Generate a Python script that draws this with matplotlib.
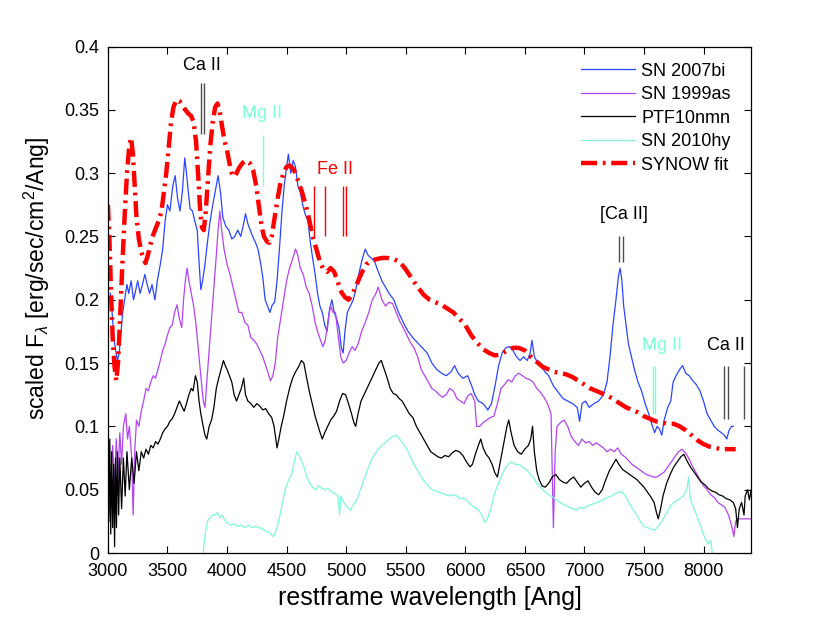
import numpy as np
import matplotlib
matplotlib.use("Agg")
import matplotlib.pyplot as plt

plt.rcParams['font.family'] = ['Liberation Sans', 'DejaVu Sans']
plt.rcParams['mathtext.fontset'] = 'custom'
plt.rcParams['mathtext.rm'] = 'Liberation Sans'
plt.rcParams['mathtext.it'] = 'Liberation Sans:italic'

# === spectra (wavelength [Ang], scaled flux) ===
sn2007bi = np.array([
    (3020, 0.205), (3035, 0.19), (3050, 0.17), (3065, 0.16), (3080, 0.152), (3095, 0.158),
    (3110, 0.175), (3125, 0.19), (3140, 0.2), (3160, 0.212), (3175, 0.205), (3195, 0.215),
    (3215, 0.2), (3230, 0.206), (3250, 0.215), (3270, 0.205), (3290, 0.212), (3310, 0.22),
    (3330, 0.212), (3350, 0.205), (3370, 0.212), (3395, 0.2), (3415, 0.215), (3440, 0.228),
    (3460, 0.24), (3480, 0.262), (3500, 0.275), (3520, 0.27), (3545, 0.29), (3565, 0.298),
    (3585, 0.28), (3605, 0.27), (3625, 0.285), (3645, 0.312), (3660, 0.3), (3675, 0.285),
    (3690, 0.272), (3710, 0.27), (3730, 0.262), (3750, 0.255), (3765, 0.23), (3780, 0.208),
    (3795, 0.215), (3815, 0.228), (3835, 0.245), (3855, 0.26), (3875, 0.272), (3900, 0.285),
    (3925, 0.298), (3945, 0.285), (3965, 0.265), (3990, 0.258), (4015, 0.255), (4040, 0.248),
    (4065, 0.25), (4090, 0.255), (4115, 0.25), (4135, 0.258), (4155, 0.268), (4175, 0.26),
    (4195, 0.255), (4215, 0.25), (4240, 0.245), (4260, 0.24), (4280, 0.23), (4300, 0.218),
    (4320, 0.2), (4340, 0.195), (4360, 0.19), (4380, 0.196), (4400, 0.198), (4420, 0.215),
    (4440, 0.24), (4460, 0.268), (4480, 0.29), (4500, 0.305), (4515, 0.315), (4535, 0.3),
    (4555, 0.31), (4575, 0.305), (4595, 0.29), (4615, 0.285), (4635, 0.275), (4655, 0.268),
    (4680, 0.262), (4700, 0.245), (4720, 0.232), (4740, 0.22), (4760, 0.205), (4780, 0.195),
    (4800, 0.19), (4820, 0.18), (4840, 0.175), (4860, 0.192), (4880, 0.2), (4900, 0.19),
    (4920, 0.185), (4940, 0.178), (4960, 0.162), (4975, 0.158), (4990, 0.175), (5010, 0.19),
    (5035, 0.195), (5060, 0.2), (5085, 0.21), (5110, 0.222), (5135, 0.232), (5160, 0.24),
    (5185, 0.235), (5210, 0.233), (5240, 0.23), (5270, 0.222), (5300, 0.215), (5330, 0.21),
    (5360, 0.205), (5400, 0.2), (5440, 0.19), (5480, 0.182), (5520, 0.175), (5560, 0.17),
    (5600, 0.166), (5640, 0.162), (5680, 0.158), (5720, 0.15), (5760, 0.145), (5800, 0.142),
    (5840, 0.14), (5880, 0.143), (5910, 0.148), (5940, 0.142), (5980, 0.138), (6020, 0.14),
    (6050, 0.133), (6080, 0.125), (6110, 0.12), (6150, 0.118), (6190, 0.113), (6220, 0.118),
    (6250, 0.132), (6280, 0.148), (6310, 0.158), (6340, 0.162), (6370, 0.163), (6400, 0.16),
    (6430, 0.155), (6460, 0.152), (6490, 0.155), (6520, 0.152), (6545, 0.158), (6560, 0.168),
    (6580, 0.155), (6610, 0.15), (6640, 0.147), (6670, 0.143), (6700, 0.14), (6740, 0.132),
    (6780, 0.127), (6820, 0.122), (6860, 0.12), (6900, 0.118), (6940, 0.115), (6960, 0.104),
    (6980, 0.118), (7010, 0.12), (7040, 0.115), (7080, 0.118), (7120, 0.12), (7160, 0.125),
    (7190, 0.135), (7215, 0.155), (7240, 0.18), (7265, 0.2), (7285, 0.218), (7300, 0.225),
    (7315, 0.215), (7330, 0.195), (7350, 0.18), (7370, 0.165), (7395, 0.155), (7420, 0.145),
    (7450, 0.135), (7480, 0.128), (7510, 0.118), (7540, 0.11), (7565, 0.102), (7590, 0.095),
    (7610, 0.1), (7630, 0.098), (7650, 0.093), (7670, 0.105), (7700, 0.115), (7725, 0.12),
    (7745, 0.135), (7770, 0.14), (7800, 0.145), (7825, 0.148), (7850, 0.142), (7880, 0.14),
    (7910, 0.136), (7940, 0.133), (7970, 0.128), (8000, 0.12), (8030, 0.11), (8060, 0.105),
    (8090, 0.1), (8120, 0.097), (8150, 0.095), (8175, 0.093), (8195, 0.09), (8215, 0.097),
    (8235, 0.1), (8250, 0.1)])

sn1999as = np.array([
    (3000, 0.08), (3008, 0.05), (3015, 0.025), (3025, 0.06), (3040, 0.085), (3055, 0.05),
    (3070, 0.09), (3085, 0.06), (3100, 0.095), (3115, 0.07), (3130, 0.1), (3150, 0.11),
    (3165, 0.09), (3180, 0.1), (3200, 0.075), (3212, 0.03), (3225, 0.08), (3240, 0.105),
    (3260, 0.1), (3280, 0.112), (3300, 0.12), (3320, 0.13), (3340, 0.128), (3360, 0.135),
    (3380, 0.14), (3400, 0.138), (3420, 0.145), (3440, 0.152), (3460, 0.16), (3480, 0.165),
    (3500, 0.172), (3520, 0.178), (3540, 0.18), (3560, 0.19), (3580, 0.196), (3600, 0.185),
    (3620, 0.178), (3635, 0.2), (3650, 0.215), (3665, 0.225), (3680, 0.215), (3700, 0.205),
    (3720, 0.195), (3740, 0.18), (3760, 0.16), (3780, 0.14), (3800, 0.12), (3815, 0.115),
    (3830, 0.135), (3850, 0.16), (3870, 0.185), (3890, 0.21), (3910, 0.235), (3925, 0.255),
    (3940, 0.27), (3955, 0.255), (3975, 0.24), (4000, 0.228), (4025, 0.22), (4050, 0.21),
    (4075, 0.2), (4100, 0.19), (4125, 0.19), (4150, 0.182), (4175, 0.18), (4200, 0.17),
    (4225, 0.168), (4250, 0.165), (4275, 0.16), (4300, 0.155), (4325, 0.148), (4345, 0.142),
    (4365, 0.136), (4385, 0.14), (4405, 0.15), (4425, 0.17), (4450, 0.185), (4475, 0.2),
    (4500, 0.215), (4525, 0.225), (4550, 0.232), (4575, 0.24), (4595, 0.235), (4615, 0.225),
    (4640, 0.22), (4665, 0.21), (4690, 0.205), (4715, 0.195), (4740, 0.182), (4760, 0.175),
    (4785, 0.168), (4805, 0.163), (4825, 0.168), (4850, 0.185), (4870, 0.195), (4890, 0.19),
    (4910, 0.19), (4935, 0.17), (4955, 0.155), (4975, 0.15), (5000, 0.152), (5025, 0.158),
    (5050, 0.163), (5075, 0.16), (5100, 0.165), (5130, 0.175), (5160, 0.182), (5190, 0.19),
    (5220, 0.2), (5250, 0.205), (5270, 0.21), (5300, 0.2), (5330, 0.195), (5360, 0.198),
    (5390, 0.197), (5420, 0.19), (5450, 0.183), (5480, 0.178), (5510, 0.172), (5540, 0.166),
    (5570, 0.162), (5600, 0.155), (5630, 0.145), (5660, 0.14), (5690, 0.135), (5720, 0.13),
    (5750, 0.128), (5780, 0.125), (5810, 0.123), (5840, 0.125), (5870, 0.13), (5900, 0.128),
    (5930, 0.122), (5960, 0.12), (5990, 0.118), (6020, 0.124), (6050, 0.126), (6080, 0.12),
    (6095, 0.1), (6120, 0.1), (6150, 0.103), (6180, 0.105), (6210, 0.107), (6240, 0.108),
    (6270, 0.118), (6300, 0.13), (6330, 0.133), (6360, 0.137), (6390, 0.135), (6420, 0.14),
    (6450, 0.142), (6480, 0.14), (6510, 0.138), (6540, 0.137), (6570, 0.135), (6600, 0.13),
    (6630, 0.127), (6660, 0.123), (6690, 0.118), (6720, 0.11), (6740, 0.02), (6755, 0.08),
    (6770, 0.1), (6800, 0.103), (6830, 0.105), (6860, 0.1), (6890, 0.092), (6920, 0.088),
    (6950, 0.085), (6980, 0.09), (7010, 0.087), (7040, 0.088), (7070, 0.085), (7100, 0.087),
    (7130, 0.085), (7160, 0.083), (7190, 0.08), (7220, 0.082), (7250, 0.08), (7280, 0.083),
    (7310, 0.078), (7340, 0.076), (7370, 0.073), (7400, 0.07), (7430, 0.068), (7460, 0.066),
    (7490, 0.064), (7520, 0.062), (7550, 0.061), (7580, 0.06), (7610, 0.06), (7640, 0.062),
    (7670, 0.064), (7700, 0.068), (7730, 0.072), (7760, 0.076), (7790, 0.08), (7820, 0.082),
    (7850, 0.079), (7880, 0.074), (7910, 0.068), (7940, 0.063), (7970, 0.058), (8000, 0.053),
    (8030, 0.05), (8060, 0.046), (8090, 0.044), (8120, 0.04), (8150, 0.038), (8180, 0.036),
    (8210, 0.03), (8240, 0.02), (8255, 0.013), (8270, 0.025), (8290, 0.027), (8400, 0.027)])

ptf10nmn = np.array([
    (3000, 0.1), (3008, 0.03), (3016, 0.09), (3024, 0.015), (3032, 0.08), (3040, 0.02),
    (3048, 0.07), (3056, 0.005), (3064, 0.075), (3072, 0.02), (3080, 0.08), (3090, 0.03),
    (3100, 0.075), (3115, 0.035), (3130, 0.075), (3145, 0.045), (3160, 0.08), (3180, 0.05),
    (3200, 0.075), (3220, 0.055), (3240, 0.08), (3260, 0.065), (3280, 0.08), (3300, 0.075),
    (3320, 0.082), (3340, 0.078), (3360, 0.085), (3380, 0.083), (3400, 0.088), (3420, 0.086),
    (3440, 0.09), (3460, 0.095), (3480, 0.098), (3500, 0.1), (3520, 0.104), (3540, 0.106),
    (3560, 0.11), (3580, 0.115), (3600, 0.12), (3620, 0.116), (3640, 0.112), (3660, 0.118),
    (3680, 0.125), (3700, 0.13), (3715, 0.128), (3735, 0.14), (3750, 0.135), (3765, 0.12),
    (3780, 0.11), (3800, 0.1), (3815, 0.093), (3830, 0.09), (3850, 0.1), (3870, 0.105),
    (3890, 0.115), (3910, 0.13), (3930, 0.138), (3950, 0.145), (3970, 0.152), (3985, 0.148),
    (4000, 0.145), (4020, 0.14), (4040, 0.135), (4060, 0.125), (4080, 0.12), (4100, 0.125),
    (4120, 0.13), (4140, 0.138), (4155, 0.125), (4175, 0.12), (4200, 0.118), (4225, 0.115),
    (4250, 0.118), (4275, 0.116), (4300, 0.113), (4325, 0.114), (4350, 0.11), (4375, 0.107),
    (4395, 0.1), (4410, 0.09), (4420, 0.083), (4435, 0.09), (4455, 0.1), (4475, 0.108),
    (4500, 0.12), (4525, 0.13), (4550, 0.138), (4575, 0.143), (4600, 0.147), (4625, 0.152),
    (4645, 0.15), (4665, 0.14), (4690, 0.128), (4715, 0.118), (4740, 0.108), (4765, 0.1),
    (4785, 0.094), (4800, 0.09), (4820, 0.095), (4845, 0.1), (4870, 0.105), (4895, 0.108),
    (4920, 0.112), (4945, 0.12), (4970, 0.126), (4995, 0.125), (5020, 0.118), (5045, 0.11),
    (5065, 0.103), (5080, 0.1), (5100, 0.11), (5125, 0.12), (5150, 0.125), (5175, 0.13),
    (5200, 0.135), (5225, 0.14), (5250, 0.145), (5275, 0.15), (5295, 0.152), (5320, 0.145),
    (5345, 0.138), (5370, 0.13), (5395, 0.126), (5420, 0.125), (5445, 0.122), (5470, 0.12),
    (5500, 0.115), (5530, 0.11), (5560, 0.107), (5590, 0.1), (5620, 0.095), (5650, 0.09),
    (5680, 0.085), (5710, 0.08), (5740, 0.078), (5770, 0.076), (5800, 0.075), (5830, 0.077),
    (5860, 0.076), (5890, 0.079), (5920, 0.081), (5950, 0.08), (5980, 0.077), (6010, 0.072),
    (6040, 0.068), (6060, 0.07), (6085, 0.078), (6110, 0.085), (6130, 0.09), (6150, 0.083),
    (6175, 0.078), (6200, 0.075), (6225, 0.07), (6250, 0.063), (6270, 0.06), (6290, 0.07),
    (6310, 0.08), (6330, 0.09), (6350, 0.1), (6365, 0.105), (6385, 0.095), (6410, 0.085),
    (6440, 0.08), (6470, 0.078), (6500, 0.082), (6530, 0.085), (6550, 0.09), (6565, 0.1),
    (6580, 0.08), (6600, 0.065), (6620, 0.058), (6645, 0.053), (6670, 0.052), (6700, 0.055),
    (6730, 0.06), (6760, 0.062), (6790, 0.058), (6820, 0.056), (6850, 0.055), (6880, 0.058),
    (6910, 0.06), (6940, 0.056), (6970, 0.052), (7000, 0.055), (7030, 0.057), (7060, 0.052),
    (7090, 0.048), (7120, 0.046), (7150, 0.05), (7180, 0.058), (7210, 0.065), (7240, 0.07),
    (7265, 0.074), (7290, 0.07), (7320, 0.066), (7350, 0.064), (7380, 0.062), (7410, 0.06),
    (7440, 0.058), (7470, 0.055), (7500, 0.052), (7530, 0.048), (7560, 0.044), (7585, 0.04),
    (7605, 0.032), (7620, 0.027), (7640, 0.035), (7660, 0.045), (7690, 0.055), (7720, 0.062),
    (7750, 0.068), (7780, 0.072), (7810, 0.076), (7835, 0.078), (7860, 0.073), (7890, 0.068),
    (7920, 0.064), (7950, 0.06), (7980, 0.056), (8010, 0.054), (8040, 0.051), (8070, 0.049),
    (8100, 0.048), (8130, 0.046), (8160, 0.045), (8190, 0.043), (8220, 0.042), (8250, 0.04),
    (8270, 0.035), (8285, 0.02), (8300, 0.035), (8320, 0.04), (8340, 0.03), (8350, 0.045),
    (8370, 0.05), (8385, 0.042), (8400, 0.05)])

sn2010hy = np.array([
    (3800, 0.0), (3810, 0.01), (3825, 0.02), (3840, 0.026), (3860, 0.028), (3880, 0.03),
    (3900, 0.03), (3920, 0.032), (3940, 0.028), (3960, 0.03), (3980, 0.026), (4000, 0.024),
    (4030, 0.022), (4060, 0.023), (4090, 0.021), (4120, 0.022), (4150, 0.02), (4180, 0.022),
    (4210, 0.02), (4240, 0.021), (4270, 0.02), (4300, 0.019), (4330, 0.017), (4360, 0.016),
    (4385, 0.013), (4400, 0.015), (4420, 0.02), (4445, 0.03), (4470, 0.042), (4495, 0.052),
    (4520, 0.058), (4545, 0.063), (4565, 0.072), (4585, 0.08), (4600, 0.078), (4620, 0.074),
    (4645, 0.068), (4670, 0.06), (4695, 0.055), (4720, 0.052), (4745, 0.05), (4770, 0.053),
    (4795, 0.051), (4820, 0.05), (4850, 0.051), (4880, 0.048), (4905, 0.047), (4930, 0.045),
    (4945, 0.03), (4955, 0.045), (4980, 0.04), (5010, 0.036), (5035, 0.034), (5060, 0.038),
    (5090, 0.042), (5120, 0.05), (5150, 0.058), (5180, 0.066), (5210, 0.073), (5240, 0.078),
    (5270, 0.082), (5300, 0.085), (5330, 0.087), (5360, 0.09), (5390, 0.092), (5420, 0.093),
    (5450, 0.09), (5480, 0.086), (5510, 0.082), (5540, 0.076), (5570, 0.07), (5600, 0.065),
    (5630, 0.06), (5660, 0.056), (5690, 0.053), (5720, 0.05), (5750, 0.049), (5780, 0.048),
    (5810, 0.047), (5840, 0.046), (5870, 0.045), (5900, 0.046), (5930, 0.045), (5960, 0.043),
    (5990, 0.043), (6020, 0.041), (6050, 0.038), (6080, 0.036), (6110, 0.034), (6140, 0.03),
    (6165, 0.024), (6190, 0.028), (6215, 0.035), (6240, 0.045), (6270, 0.053), (6300, 0.06),
    (6330, 0.066), (6360, 0.07), (6390, 0.072), (6420, 0.07), (6450, 0.07), (6480, 0.068),
    (6510, 0.066), (6540, 0.063), (6570, 0.06), (6600, 0.055), (6630, 0.052), (6660, 0.049),
    (6690, 0.047), (6720, 0.045), (6750, 0.043), (6780, 0.041), (6810, 0.039), (6840, 0.038),
    (6870, 0.036), (6900, 0.035), (6930, 0.034), (6960, 0.036), (6990, 0.035), (7020, 0.037),
    (7050, 0.038), (7080, 0.039), (7110, 0.04), (7140, 0.041), (7170, 0.043), (7200, 0.044),
    (7230, 0.045), (7260, 0.047), (7290, 0.048), (7320, 0.048), (7350, 0.044), (7380, 0.039),
    (7410, 0.034), (7440, 0.03), (7470, 0.025), (7500, 0.021), (7530, 0.02), (7560, 0.019),
    (7590, 0.018), (7620, 0.021), (7650, 0.025), (7680, 0.03), (7710, 0.035), (7740, 0.039),
    (7770, 0.041), (7800, 0.043), (7830, 0.045), (7860, 0.05), (7875, 0.06), (7890, 0.042),
    (7920, 0.035), (7950, 0.028), (7980, 0.02), (8010, 0.012), (8040, 0.007), (8060, 0.01),
    (8075, 0.0)])

synow = np.array([
    (3000, 0.275), (3012, 0.25), (3025, 0.21), (3040, 0.17), (3055, 0.148), (3070, 0.136),
    (3085, 0.15), (3100, 0.18), (3120, 0.225), (3140, 0.265), (3160, 0.3), (3180, 0.322),
    (3195, 0.328), (3210, 0.315), (3225, 0.29), (3240, 0.265), (3260, 0.248), (3280, 0.238),
    (3300, 0.232), (3315, 0.229), (3335, 0.235), (3355, 0.243), (3375, 0.25), (3400, 0.256),
    (3425, 0.262), (3450, 0.27), (3470, 0.285), (3490, 0.3), (3510, 0.32), (3530, 0.34),
    (3550, 0.352), (3575, 0.358), (3600, 0.357), (3625, 0.353), (3650, 0.35), (3675, 0.347),
    (3700, 0.345), (3720, 0.34), (3740, 0.325), (3760, 0.295), (3775, 0.27), (3790, 0.257),
    (3805, 0.255), (3820, 0.268), (3840, 0.295), (3860, 0.322), (3880, 0.34), (3900, 0.352),
    (3920, 0.355), (3940, 0.348), (3960, 0.336), (3980, 0.325), (4000, 0.318), (4020, 0.308),
    (4040, 0.3), (4060, 0.297), (4080, 0.3), (4100, 0.304), (4130, 0.308), (4160, 0.31),
    (4190, 0.308), (4220, 0.302), (4245, 0.29), (4270, 0.272), (4290, 0.258), (4310, 0.25),
    (4335, 0.246), (4355, 0.245), (4375, 0.25), (4400, 0.265), (4425, 0.28), (4450, 0.293),
    (4475, 0.3), (4500, 0.305), (4525, 0.306), (4550, 0.304), (4575, 0.3), (4600, 0.293),
    (4630, 0.285), (4660, 0.275), (4690, 0.263), (4720, 0.25), (4750, 0.24), (4780, 0.23),
    (4810, 0.224), (4840, 0.222), (4870, 0.225), (4900, 0.222), (4930, 0.214), (4960, 0.206),
    (4990, 0.202), (5020, 0.2), (5050, 0.204), (5080, 0.21), (5110, 0.217), (5140, 0.223),
    (5170, 0.228), (5200, 0.23), (5250, 0.232), (5300, 0.233), (5350, 0.233), (5400, 0.232),
    (5450, 0.23), (5500, 0.224), (5550, 0.217), (5600, 0.21), (5650, 0.204), (5700, 0.2),
    (5750, 0.198), (5800, 0.196), (5850, 0.193), (5900, 0.19), (5950, 0.185), (6000, 0.18),
    (6050, 0.172), (6100, 0.166), (6150, 0.161), (6200, 0.158), (6250, 0.156), (6300, 0.157),
    (6350, 0.16), (6400, 0.162), (6450, 0.162), (6500, 0.16), (6550, 0.155), (6600, 0.151),
    (6650, 0.147), (6700, 0.145), (6750, 0.143), (6800, 0.142), (6850, 0.141), (6900, 0.139),
    (6950, 0.136), (7000, 0.133), (7050, 0.13), (7100, 0.128), (7150, 0.126), (7200, 0.124),
    (7250, 0.121), (7300, 0.118), (7350, 0.115), (7400, 0.113), (7450, 0.111), (7500, 0.108),
    (7550, 0.106), (7600, 0.104), (7650, 0.103), (7700, 0.102), (7750, 0.102), (7800, 0.1),
    (7850, 0.097), (7900, 0.093), (7950, 0.089), (8000, 0.086), (8050, 0.084), (8100, 0.083),
    (8150, 0.082), (8200, 0.082), (8270, 0.082)])

labels = ['SN 2007bi', 'SN 1999as', 'PTF10nmn', 'SN 2010hy', 'SYNOW fit']

# === line identifications: (label, colour, text x, text y, line positions, line y0, line y1) ===
ion_marks = [
    ('Ca II',    'black',   3790, 0.385, [3779, 3809],             0.331, 0.371),
    ('Mg II',    '#7fffd4', 4294, 0.347, [4303],                   0.290, 0.330),
    ('Fe II',    'red',     4908, 0.303, [4734, 4824, 4972, 4997], 0.250, 0.290),
    ('[Ca II]',  'black',   7328, 0.267, [7291, 7324],             0.230, 0.250),
    ('Mg II',    '#7fffd4', 7655, 0.164, [7578, 7591],             0.110, 0.148),
    ('Ca II',    'black',   8185, 0.164, [8170, 8207, 8339],       0.106, 0.148),
]

fig = plt.figure(figsize=(8.3, 6.25), dpi=100)
ax = fig.add_axes([0.130, 0.1152, 0.775, 0.8104])

ax.plot(sn2007bi[:, 0], sn2007bi[:, 1], color='#2a45ff', lw=0.9, label=labels[0])
ax.plot(sn1999as[:, 0], sn1999as[:, 1], color='#b444f0', lw=0.9, label=labels[1])
ax.plot(ptf10nmn[:, 0], ptf10nmn[:, 1], color='black', lw=0.9, label=labels[2])
ax.plot(sn2010hy[:, 0], sn2010hy[:, 1], color='#7ff7dc', lw=0.9, label=labels[3])
ax.plot(synow[:, 0], synow[:, 1], color='red', lw=3.2,
        linestyle=(0, (3.6, 1.3, 0.6, 1.3)), label=labels[4])

for name, col, tx, ty, xs, y0, y1 in ion_marks:
    ax.text(tx, ty, name, color=col, fontsize=13, ha='center', va='center')
    lc = '0.3' if col == 'black' else col
    ax.vlines(xs, y0, y1, color=lc, lw=1.0)

ax.set_xlim(3000, 8400)
ax.set_ylim(0, 0.4)
ax.set_xticks(np.arange(3000, 8001, 500))
ax.set_yticks(np.arange(0, 0.41, 0.05))
ax.set_yticklabels(['0', '0.05', '0.1', '0.15', '0.2', '0.25', '0.3', '0.35', '0.4'])
ax.tick_params(direction='in', top=True, right=True, length=5, width=0.8, labelsize=13)
ax.tick_params(axis='x', pad=7.5)
ax.tick_params(axis='y', pad=6)
for s in ax.spines.values():
    s.set_linewidth(0.9)

ax.set_xlabel('restframe wavelength [Ang]', fontsize=18, labelpad=4)
ax.set_ylabel(r'scaled F$_\lambda$ [erg/sec/cm$^2$/Ang]', fontsize=16.5)
ax.yaxis.set_label_coords(-0.087, 0.543)

ax.legend(loc='upper left', bbox_to_anchor=(0.735, 0.968), frameon=False, fontsize=13,
          handlelength=3.0, handletextpad=0.35, labelspacing=0.36, borderpad=0, borderaxespad=0)

fig.savefig('out.png', dpi=100)
